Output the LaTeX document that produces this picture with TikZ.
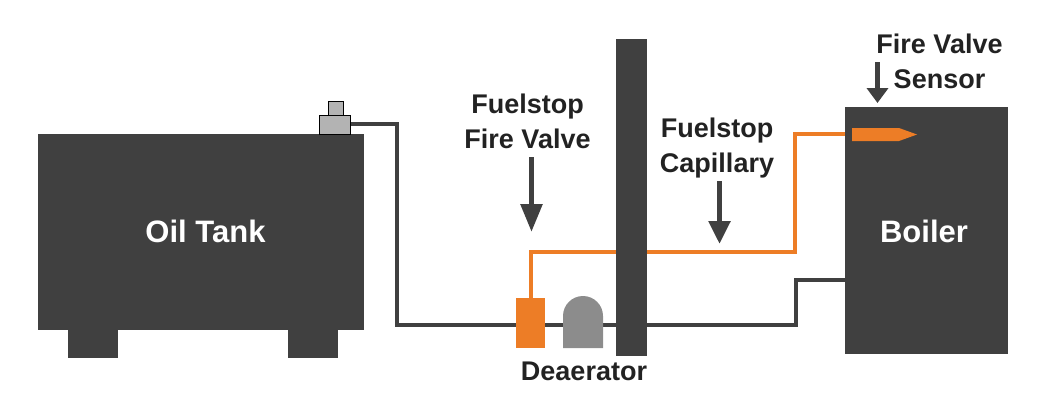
\documentclass[tikz,border=0pt]{standalone}
\usepackage{fontspec}
\setmainfont{Liberation Sans}
\usetikzlibrary{arrows.meta,backgrounds}
\definecolor{dark}{HTML}{404040}
\definecolor{fuel}{HTML}{ED7D26}
\definecolor{metal}{HTML}{B3B3B3}
\definecolor{bulb}{HTML}{8C8C8C}
\definecolor{ink}{HTML}{222222}
\tikzset{
  block/.style={fill=dark,inner sep=0pt,outer sep=0pt},
  valvepart/.style={fill=metal,draw=black,line width=1pt,inner sep=0pt,outer sep=0pt},
  oilpipe/.style={draw=dark,line width=4pt,line join=miter},
  capillary/.style={draw=fuel,line width=4pt,line join=miter},
  pointer/.style={draw=dark,line width=5.5pt,-{Triangle[width=21pt,length=#1]},fill=dark},
  label/.style={text=ink,font=\bfseries\fontsize{27}{32}\selectfont,align=center,inner sep=0pt},
  inlabel/.style={text=white,font=\bfseries\fontsize{31}{36}\selectfont,inner sep=0pt}
}
\begin{document}
\begin{tikzpicture}[x=1pt,y=-1pt]
\useasboundingbox (0,0) rectangle (1055,410);
% blocks
\node[block,minimum width=326pt,minimum height=196pt] (tank) at (201,232) {};
\node[block,minimum width=50pt,minimum height=28pt] (footL) at (93,344) {};
\node[block,minimum width=50pt,minimum height=28pt] (footR) at (313,344) {};
\node[valvepart,minimum width=31pt,minimum height=19pt] (valveBase) at (335,124.5) {};
\node[valvepart,minimum width=15pt,minimum height=14pt] (valveTop) at (336,108) {};
\node[block,minimum width=31pt,minimum height=317pt] (wall) at (631.5,197.5) {};
\node[block,minimum width=163pt,minimum height=247pt] (boiler) at (926.5,230.5) {};
\node[fill=fuel,inner sep=0pt,outer sep=0pt,minimum width=29pt,minimum height=50pt] (fireValve) at (530.5,323) {};
% deaerator
\fill[bulb] (563,348) -- (563,316) arc[start angle=180,end angle=360,radius=20] -- (603,348) -- cycle;
% sensor bulb
\fill[fuel] (852,128) -- (899,128) -- (917,134.5) -- (899,141) -- (852,141) -- cycle;
\coordinate (sensor) at (852,134);
% pipes
\begin{scope}[on background layer]
  \draw[oilpipe] (valveBase.east |- 0,124) -- (397,124) -- (397,325) -- (796,325) -- (796,280) -- (boiler.west |- 0,280);
  \draw[capillary] (fireValve.north -| 531,0) -- (531,252) -- (795,252) -- (795,134) -- (sensor);
\end{scope}
% pointers
\coordinate (p1s) at (877.5,62); \coordinate (p1e) at (877.5,103);
\coordinate (p2s) at (531.5,157); \coordinate (p2e) at (531.5,232);
\coordinate (p3s) at (719.5,181); \coordinate (p3e) at (719.5,244);
\draw[pointer=15pt] (p1s) -- (p1e);
\draw[pointer=28pt] (p2s) -- (p2e);
\draw[pointer=23pt] (p3s) -- (p3e);
% labels
\node[inlabel] (oilLabel) at (205.5,231) {Oil Tank};
\node[inlabel] (boilerLabel) at (924,231) {Boiler};
\node[label] (fvLabel) at (527.5,121.5) {Fuelstop\\[3pt]Fire Valve};
\node[label] (capLabel) at (717,148) {Fuelstop\\[3pt]Capillary};
\node[label] (deLabel) at (584,371) {Deaerator};
\node[label,anchor=center] (fvs1) at (939.5,44) {Fire Valve};
\node[label,anchor=center] (fvs2) at (939.5,79) {Sensor};
\end{tikzpicture}
\end{document}
